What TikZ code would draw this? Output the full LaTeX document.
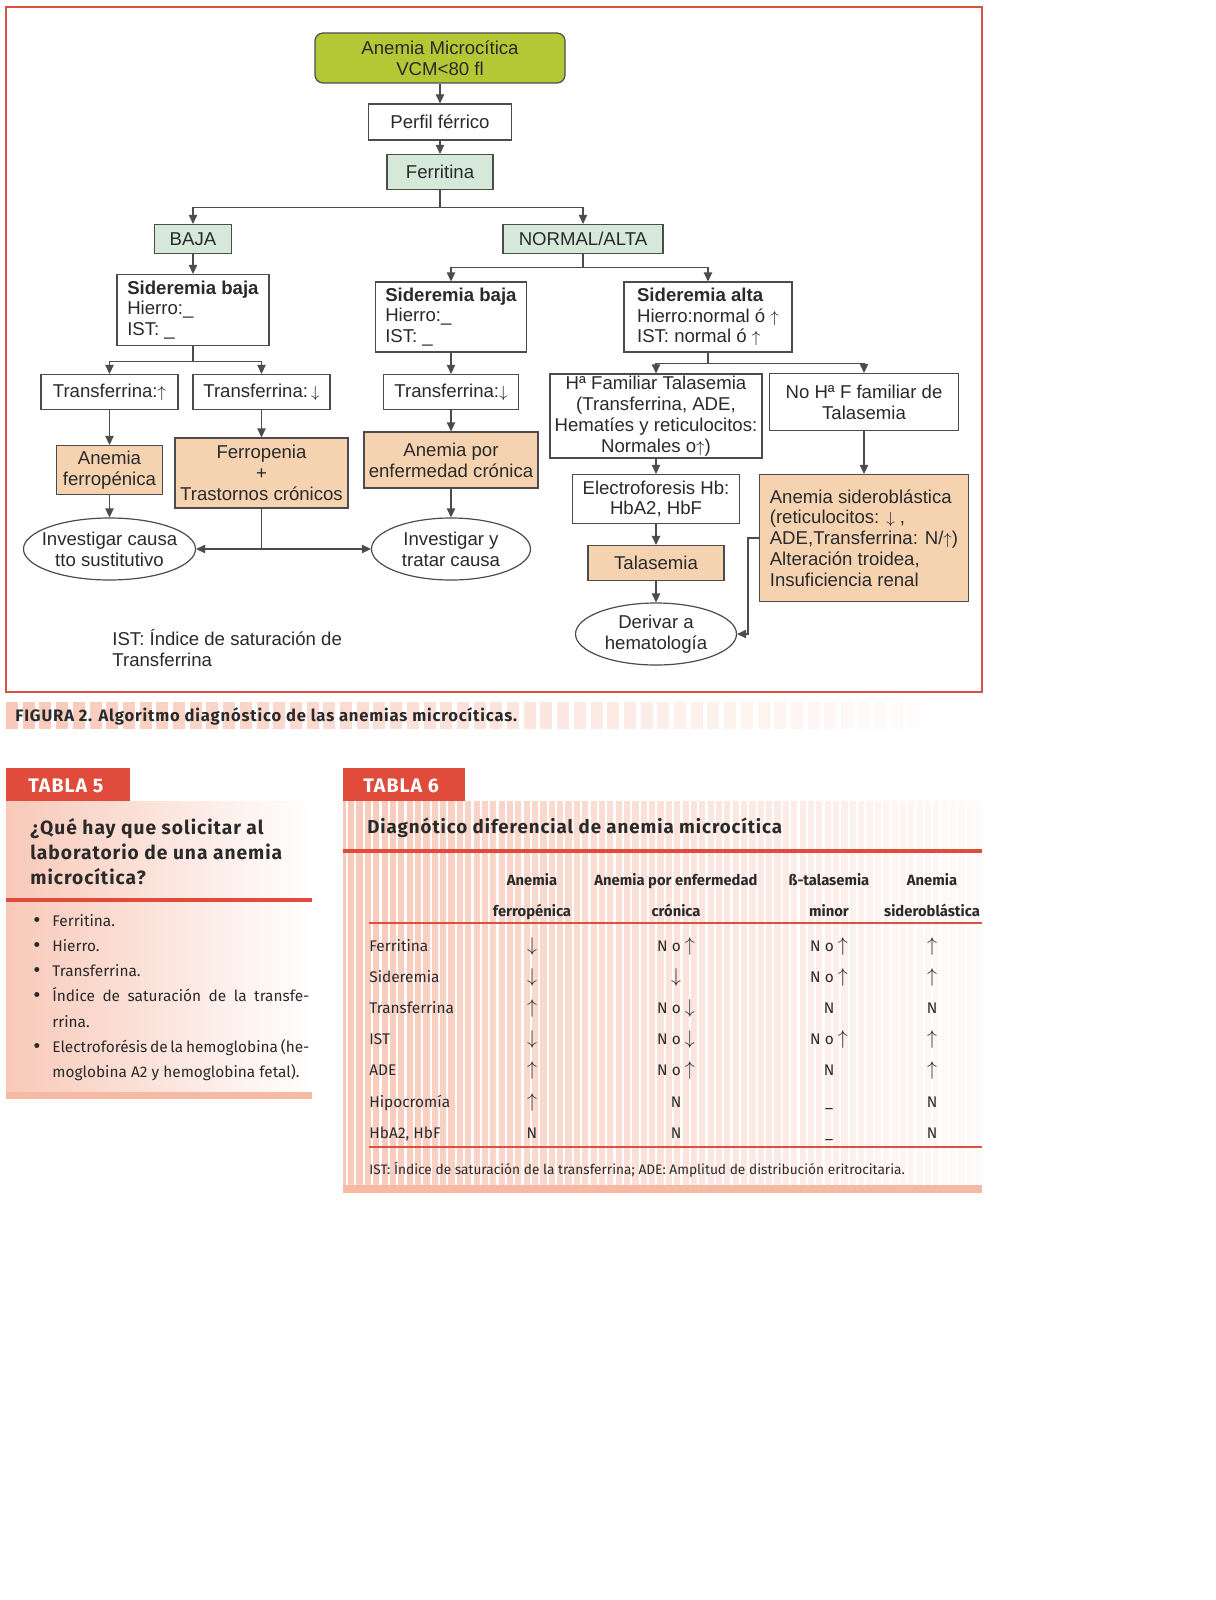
\documentclass[tikz,border=0pt]{standalone}
\usepackage{fontspec}
\setmainfont{Liberation Sans}
\newfontfamily\tabfont{Fira Sans}
\newfontfamily\tabwide[LetterSpace=5]{Fira Sans}
\usetikzlibrary{positioning,shapes.geometric,arrows.meta}
\definecolor{frame}{HTML}{DC5044}
\definecolor{olive}{HTML}{B4C836}
\definecolor{mint}{HTML}{D6E9D8}
\definecolor{peach}{HTML}{F5D3B0}
\definecolor{edge}{HTML}{4C4C4C}
\definecolor{tabred}{HTML}{E14B3B}
\definecolor{blush}{HTML}{F8C9B9}
\definecolor{blushbar}{HTML}{F6B9A4}
\definecolor{ink}{HTML}{2A2A2A}
\newcommand\flowfont{\fontsize{9.3}{10.4}\selectfont}
\newcommand\fup{{\fontsize{8.4}{8}\selectfont$\uparrow$}}
\newcommand\fdn{{\fontsize{8.4}{8}\selectfont$\downarrow$}}
\newcommand\upar{{\fontsize{10}{10}\selectfont$\uparrow$}}
\newcommand\dnar{{\fontsize{10}{10}\selectfont$\downarrow$}}

\begin{document}
\begin{tikzpicture}[x=0.5pt,y=-0.5pt,
    flowbox/.style={draw=edge,line width=0.6pt,fill=white,inner sep=0pt,
      align=center,text=ink,font=\flowfont},
    labbox/.style={flowbox,fill=mint},
    resbox/.style={flowbox,fill=peach},
    oval/.style={flowbox,ellipse,inner sep=-20pt},
    conn/.style={draw=edge,line width=0.6pt,-{Triangle[length=4.5pt,width=4.2pt]}},
    tabtxt/.style={inner sep=0pt,text=ink,font={\tabfont\fontsize{7.7}{9}\selectfont}},
    tabhd/.style={tabtxt,font={\tabfont\bfseries\fontsize{7.4}{9}\selectfont}},
    tabtag/.style={inner sep=0pt,text=white,font={\tabwide\bfseries\fontsize{9.8}{11}\selectfont}},
    tabtitle/.style={inner sep=0pt,text=ink,font={\tabwide\bfseries\fontsize{9.6}{12.5}\selectfont}}]
  \fill[white] (0,0) rectangle (1215,1600);
  \useasboundingbox (0,0) rectangle (1215,1600);

  % algoritmo
  \draw[frame,line width=0.8pt] (6,7) rectangle (982,692);
  \node[flowbox,fill=olive,rounded corners=4pt,minimum width=125pt,minimum height=25pt] (anemia) at (440,58) {Anemia Microcítica\\VCM<80 fl};
  \node[flowbox,minimum width=71.5pt,minimum height=18pt] (perfil) at (440,122) {Perfil férrico};
  \node[labbox,minimum width=53pt,minimum height=17.5pt] (ferr) at (440,172) {Ferritina};
  \node[labbox,minimum width=38.5pt,minimum height=14.5pt] (baja) at (193,239) {BAJA};
  \node[labbox,minimum width=80pt,minimum height=14.5pt] (normal) at (583,239) {NORMAL/ALTA};

  \node[flowbox,align=left,minimum width=76pt,minimum height=35.5pt] (sid1) at (193,310) {\textbf{Sideremia baja}\\Hierro:\_\\IST: \_};
  \node[flowbox,align=left,minimum width=75.5pt,minimum height=35pt] (sid2) at (451,317) {\textbf{Sideremia baja}\\Hierro:\_\\IST: \_};
  \node[flowbox,align=left,minimum width=84pt,minimum height=35pt] (sidalta) at (708,317) {\textbf{Sideremia alta}\\Hierro:normal ó \fup\\IST: normal ó \fup};

  \node[flowbox,minimum width=68.5pt,minimum height=17.5pt] (tr1) at (109.5,392) {Transferrina:\fup};
  \node[flowbox,minimum width=68.5pt,minimum height=17.5pt] (tr2) at (261.5,392) {Transferrina:\,\fdn};
  \node[flowbox,minimum width=67.5pt,minimum height=17.5pt] (tr3) at (451,392) {Transferrina:\fdn};
  \node[flowbox,minimum width=106pt,minimum height=42pt] (hfam) at (656,416) {Hª Familiar Talasemia\\(Transferrina, ADE,\\Hematíes y reticulocitos:\\Normales o\fup)};
  \node[flowbox,minimum width=94.5pt,minimum height=28.5pt] (nohf) at (864,402) {No Hª F familiar de\\Talasemia};

  \node[resbox,minimum width=53pt,minimum height=24.5pt] (aferro) at (109.5,470) {Anemia\\ferropénica};
  \node[resbox,minimum width=86.5pt,minimum height=35pt] (ferrop) at (261.5,473) {Ferropenia\\+\\Trastornos crónicos};
  \node[resbox,minimum width=87pt,minimum height=28pt] (aenf) at (451,460) {Anemia por\\enfermedad crónica};
  \node[flowbox,minimum width=83.5pt,minimum height=24.5pt] (electro) at (656,499) {Electroforesis Hb:\\HbA2, HbF};
  \node[resbox,align=left,minimum width=104.5pt,minimum height=63.5pt] (sidero) at (864,538) {Anemia sideroblástica\\(reticulocitos: \fdn\ ,\\ADE,Transferrina: N/\fup)\\Alteración troidea,\\Insuficiencia renal};
  \node[resbox,minimum width=68pt,minimum height=17.5pt] (tal) at (656,563) {Talasemia};

  \node[oval,minimum width=86pt,minimum height=31pt] (ell1) at (109.5,549) {Investigar causa\\tto sustitutivo};
  \node[oval,minimum width=79.5pt,minimum height=31pt] (ell2) at (451,549) {Investigar y\\tratar causa};
  \node[oval,minimum width=80.5pt,minimum height=31pt] (deriv) at (656,634) {Derivar a\\hematología};
  \node[inner sep=0pt,align=left,anchor=west,text=ink,font=\flowfont] (nota) at (112,648) {IST: Índice de saturación de\\Transferrina};

  \draw[conn] (anemia) -- (perfil);
  \draw[conn] (perfil) -- (ferr);
  \draw[conn] (ferr.south) -- ++(0,17) -| (baja.north);
  \draw[conn] (ferr.south) -- ++(0,17) -| (normal.north);
  \draw[conn] (baja) -- (sid1);
  \draw[conn] (normal.south) -- ++(0,13) -| (sid2.north);
  \draw[conn] (normal.south) -- ++(0,13) -| (sidalta.north);
  \draw[conn] (sid1.south) -- ++(0,15) -| (tr1.north);
  \draw[conn] (sid1.south) -- ++(0,15) -| (tr2.north);
  \draw[conn] (sid2) -- (tr3);
  \draw[conn] (sidalta.south) -- ++(0,11) -| (hfam.north);
  \draw[conn] (sidalta.south) -- ++(0,11) -| (nohf.north);
  \draw[conn] (tr1) -- (aferro);
  \draw[conn] (tr2) -- (ferrop);
  \draw[conn] (tr3) -- (aenf);
  \draw[conn] (aferro) -- (ell1);
  \draw[conn] (aenf) -- (ell2);
  \draw[conn] (ferrop.south) |- (ell1.east);
  \draw[conn] (ferrop.south) |- (ell2.west);
  \draw[conn] (hfam) -- (electro);
  \draw[conn] (electro) -- (tal);
  \draw[conn] (tal) -- (deriv);
  \draw[conn] (nohf) -- (sidero);
  \draw[conn] (sidero.west) -- ++(-11,0) |- (deriv.east);

  % pie de figura
  \foreach \i [evaluate=\i as \pc using {int(max(3,100-\i*1.75))}] in {0,...,56}
    \fill[blush!\pc!white] ({6+\i*16.7},702) rectangle ++(12,27);
  \node[inner sep=0pt,anchor=base west,text=ink,font={\tabwide\bfseries\fontsize{8.3}{9}\selectfont}] (figcap) at (15,721) {FIGURA 2. Algoritmo diagnóstico de las anemias microcíticas.};

  % tabla 5
  \fill[tabred] (6,768) rectangle (130,801);
  \node[tabtag,anchor=base west] (tag5) at (28,792) {TABLA 5};
  \shade[left color=blush,right color=white] (6,801) rectangle (312,1092);
  \draw[tabred,line width=2pt] (6,900) -- (312,900);
  \fill[blushbar] (6,1092) rectangle (312,1099);
  \node[tabtitle,anchor=base west] (q1) at (30,834) {¿Qué hay que solicitar al};
  \node[tabtitle,anchor=base west] (q2) at (30,859) {laboratorio de una anemia};
  \node[tabtitle,anchor=base west] (q3) at (30,884) {microcítica?};
  \foreach \yy in {926,951,976,1001,1052}
    \node[tabtxt,anchor=base,font={\tabfont\fontsize{11}{11}\selectfont}] at (37,\yy+1) {•};
  \node[tabtxt,anchor=base west] (b1) at (52,926) {Ferritina.};
  \node[tabtxt,anchor=base west] (b2) at (52,951) {Hierro.};
  \node[tabtxt,anchor=base west] (b3) at (52,976) {Transferrina.};
  \node[tabtxt,anchor=base west] (b4) at (52,1001) {\makebox[128.5pt][s]{Índice de saturación de la transfe-}};
  \node[tabtxt,anchor=base west] (b4b) at (52,1027) {rrina.};
  \node[tabtxt,anchor=base west] (b5) at (52,1052) {\makebox[128.5pt][s]{Electroforésis de la hemoglobina (he-}};
  \node[tabtxt,anchor=base west] (b5b) at (52,1077) {moglobina A2 y hemoglobina fetal).};

  % tabla 6
  \fill[tabred] (343,768) rectangle (465,801);
  \node[tabtag,anchor=base west] (tag6) at (363,792) {TABLA 6};
  \shade[left color=blush,right color=blush!8] (343,801) rectangle (982,1185);
  \foreach \k in {0,...,76}
    \draw[white,line width=1.1pt] ({347+\k*8.36},801) -- ++(0,384);
  \draw[tabred,line width=2pt] (343,851) -- (982,851);
  \fill[blushbar] (343,1185) rectangle (982,1193);
  \node[tabtitle,anchor=base west,font={\tabwide\bfseries\fontsize{9.35}{12}\selectfont}] (t6) at (367,833) {Diagnótico diferencial de anemia microcítica};
  \foreach \cx/\ha/\hb [count=\c] in {532/Anemia/ferropénica,676/Anemia por enfermedad/crónica,829/ß-talasemia/minor,932/Anemia/sideroblástica}
  {
    \node[tabhd,anchor=base] (hd\c) at (\cx,885) {\ha};
    \node[tabhd,anchor=base] (hdb\c) at (\cx,916) {\hb};
  }
  \draw[frame,line width=0.6pt] (369,923) -- (982,923);
  \foreach \lab/\va/\vb/\vc/\vd [count=\r] in {
      Ferritina/\dnar/N o \upar/N o \upar/\upar,
      Sideremia/\dnar/\dnar/N o \upar/\upar,
      Transferrina/\upar/N o \dnar/N/N,
      IST/\dnar/N o \dnar/N o \upar/\upar,
      ADE/\upar/N o \upar/N/\upar,
      Hipocromía/\upar/N/\_/N,
      {HbA2, HbF}/N/N/\_/N}
  {
    \pgfmathsetmacro\ry{951+(\r-1)*31.2}
    \node[tabtxt,anchor=base west] (row\r) at (369,\ry) {\lab};
    \node[tabtxt,anchor=base] (ca\r) at (532,\ry) {\va};
    \node[tabtxt,anchor=base] (cb\r) at (676,\ry) {\vb};
    \node[tabtxt,anchor=base] (cc\r) at (829,\ry) {\vc};
    \node[tabtxt,anchor=base] (cd\r) at (932,\ry) {\vd};
  }
  \draw[frame,line width=0.6pt] (369,1147) -- (982,1147);
  \node[tabtxt,anchor=base west,font={\tabfont\fontsize{6.85}{8}\selectfont}] (pie6) at (369,1174) {IST: Índice de saturación de la transferrina; ADE: Amplitud de distribución eritrocitaria.};
\end{tikzpicture}
\end{document}
